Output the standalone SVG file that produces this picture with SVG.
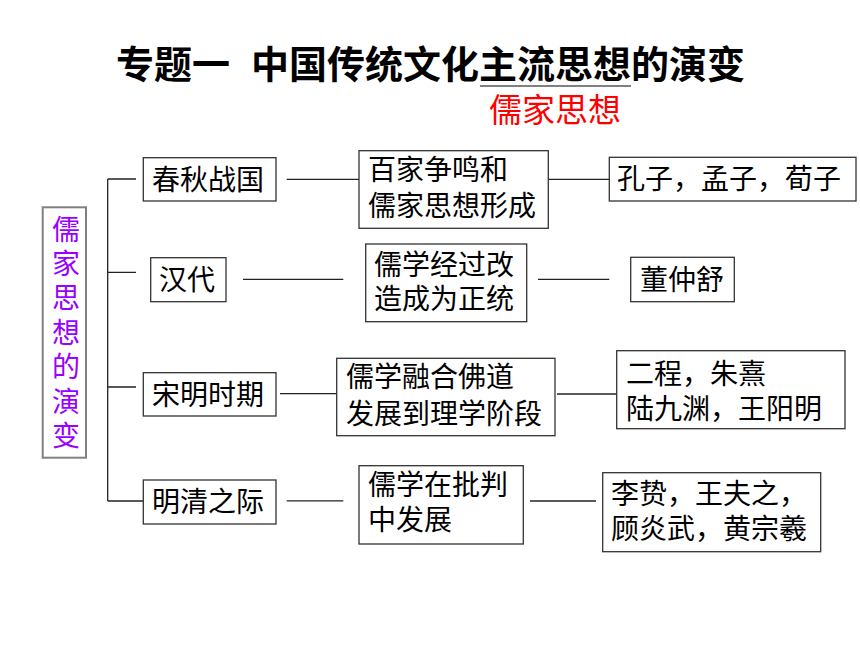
<svg xmlns="http://www.w3.org/2000/svg" width="860" height="645" viewBox="0 0 860 645">
<style>
.t{font-family:"Noto Sans CJK SC","Liberation Sans",sans-serif;font-size:28px;fill:#000;}
.title{font-family:"Liberation Sans","Noto Sans CJK SC",sans-serif;font-size:38px;font-weight:bold;fill:#000;}
.sub{font-family:"Noto Sans CJK SC",sans-serif;font-size:33px;fill:#FF0000;}
.v{font-family:"Noto Sans CJK SC",sans-serif;font-size:28px;fill:#9900FF;text-anchor:middle;}
.box{fill:#fff;stroke:#333;stroke-width:1.3;}
.gbox{fill:#fff;stroke:#808080;stroke-width:2;}
.ln{stroke:#222;stroke-width:1.3;fill:none;}
</style>
<rect width="860" height="645" fill="#fff"/>
<g id="title">
<text class="title" x="116" y="78" xml:space="preserve">专题一  中国传统文化主流思想的演变</text>
<line x1="480" y1="86" x2="631" y2="86" stroke="#808080" stroke-width="2"/>
<text class="sub" x="489" y="122">儒家思想</text>
</g>
<g id="connectors">
<path class="ln" d="M107.7 179 V501 M107.7 179 H136 M107.7 272.3 H136 M107.7 387 H136 M107.7 501 H143.3"/>
<line class="ln" x1="286.7" y1="179.3" x2="359" y2="179.3"/>
<line class="ln" x1="548.5" y1="179.3" x2="609.3" y2="179.3"/>
<line class="ln" x1="243" y1="279.3" x2="343.3" y2="279.3"/>
<line class="ln" x1="538" y1="279.3" x2="609.3" y2="279.3"/>
<line class="ln" x1="280" y1="393.7" x2="336.7" y2="393.7"/>
<line class="ln" x1="557" y1="394" x2="616.7" y2="394"/>
<line class="ln" x1="286.7" y1="500.8" x2="343.3" y2="500.8"/>
<line class="ln" x1="530" y1="501" x2="596" y2="501"/>
</g>
<g id="root">
<rect class="gbox" x="42.7" y="207.3" width="43.3" height="250.4"/>
<text class="v"><tspan x="66" y="239.6">儒</tspan><tspan x="66" y="274">家</tspan><tspan x="66" y="308.4">思</tspan><tspan x="66" y="342.8">想</tspan><tspan x="66" y="377.2">的</tspan><tspan x="66" y="411.6">演</tspan><tspan x="66" y="446">变</tspan></text>
</g>
<g id="p1">
<rect class="box" x="143.3" y="157.7" width="132.7" height="43.3"/>
<text class="t" x="152" y="190">春秋战国</text>
</g>
<g id="p2">
<rect class="box" x="150.7" y="257.7" width="75.3" height="44"/>
<text class="t" x="159" y="290">汉代</text>
</g>
<g id="p3">
<rect class="box" x="143.3" y="372.7" width="132.7" height="43.3"/>
<text class="t" x="152" y="405">宋明时期</text>
</g>
<g id="p4">
<rect class="box" x="143.3" y="480" width="132.7" height="44"/>
<text class="t" x="152" y="512">明清之际</text>
</g>
<g id="d1">
<rect class="box" x="359" y="150.7" width="189.3" height="77.6"/>
<text class="t"><tspan x="368" y="180">百家争鸣和</tspan><tspan x="368" y="216">儒家思想形成</tspan></text>
</g>
<g id="d2">
<rect class="box" x="365.7" y="244" width="161" height="77.7"/>
<text class="t"><tspan x="374" y="275">儒学经过改</tspan><tspan x="374" y="309">造成为正统</tspan></text>
</g>
<g id="d3">
<rect class="box" x="336.7" y="358.3" width="218.3" height="77.4"/>
<text class="t"><tspan x="346" y="387">儒学融合佛道</tspan><tspan x="346" y="424">发展到理学阶段</tspan></text>
</g>
<g id="d4">
<rect class="box" x="359" y="465.7" width="164.3" height="78.3"/>
<text class="t"><tspan x="368" y="495">儒学在批判</tspan><tspan x="368" y="530">中发展</tspan></text>
</g>
<g id="r1">
<rect class="box" x="609.3" y="157.3" width="246.7" height="43.7"/>
<text class="t" x="617" y="189">孔子，孟子，荀子</text>
</g>
<g id="r2">
<rect class="box" x="630.7" y="257.3" width="103.6" height="44.4"/>
<text class="t" x="640" y="290">董仲舒</text>
</g>
<g id="r3">
<rect class="box" x="616.7" y="350.7" width="228.3" height="78"/>
<text class="t"><tspan x="626" y="384">二程，朱熹</tspan><tspan x="626" y="419">陆九渊，王阳明</tspan></text>
</g>
<g id="r4">
<rect class="box" x="602.7" y="472.7" width="218" height="79"/>
<text class="t"><tspan x="611" y="504">李贽，王夫之，</tspan><tspan x="611" y="539">顾炎武，黄宗羲</tspan></text>
</g>
</svg>
